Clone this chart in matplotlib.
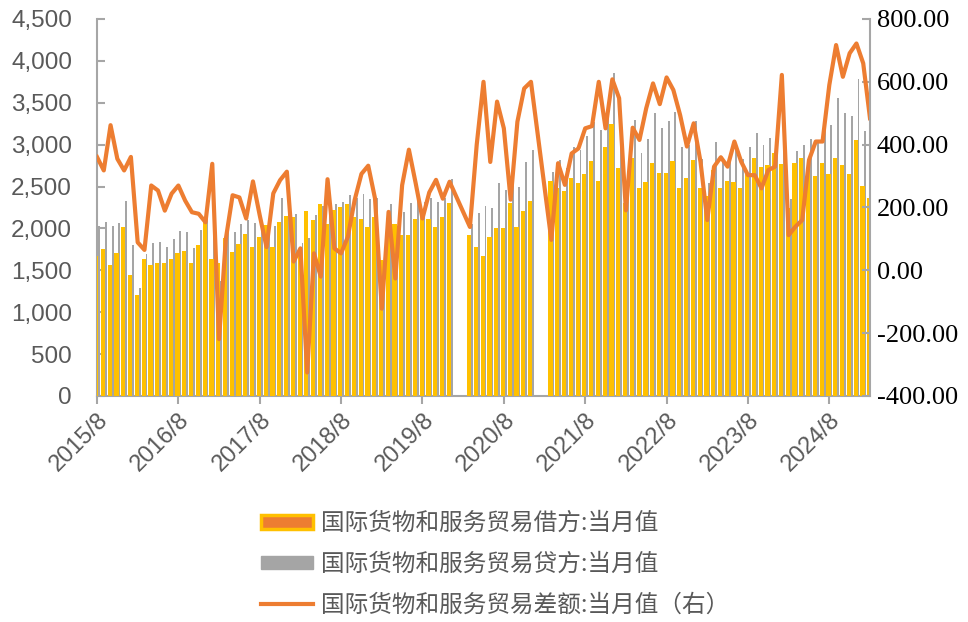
import numpy as np
import pandas as pd
import matplotlib
matplotlib.use("Agg")
import matplotlib.pyplot as plt
from matplotlib.patches import Patch
from matplotlib.lines import Line2D
from matplotlib.ticker import FuncFormatter, MultipleLocator

# monthly data, 2015/8 - 2025/2 (None = no data)
months = pd.period_range("2015-08", periods=115, freq="M")

debit = [1673, 1753, 1562, 1705, 2012, 1442, 1203, 1633, 1562, 1586,
         1586, 1633, 1705, 1733, 1586, 1801, 2104, 1633, 1586, 1883,
         1716, 1815, 1934, 1783, 1902, 2040, 1783, 2074, 2150, 2141,
         1760, 2213, 2101, 2292, 2054, 2221, 2261, 2292, 2141, 2109,
         2022, 2133, 1624, 2100, 2054, 1922, 1922, 2109, 2149, 2109,
         2022, 2141, 2308, None, None, 1922, 1783, 1672, 1902, 2002,
         2002, 2308, 2022, 2213, 2332, None, None, 2571, 2480, 2452,
         2599, 2547, 2650, 2810, 2571, 2977, 3248, 2718, 2308, 2838,
         2480, 2551, 2786, 2666, 2666, 2810, 2480, 2599, 2818, 2480,
         2388, 2700, 2480, 2571, 2551, 2480, 2666, 2838, 2738, 2758,
         2898, 2770, 2241, 2786, 2838, 2718, 2627, 2786, 2650, 2838,
         2758, 2650, 3057, 2507, 2360]

credit = [2034, 2071, 2024, 2060, 2330, 1803, 1292, 1698, 1832, 1840,
          1776, 1877, 1975, 1955, 1771, 1981, 2257, 1972, 1367, 1985,
          1956, 2049, 2100, 2065, 2073, 2115, 2028, 2362, 2464, 2169,
          1830, 1890, 2155, 2272, 2344, 2291, 2315, 2399, 2365, 2416,
          2355, 2362, 1503, 2287, 2029, 2194, 2307, 2386, 2315, 2359,
          2312, 2368, 2590, None, None, 2059, 2183, 2272, 2248, 2539,
          2454, 2532, 2495, 2792, 2932, None, None, 2668, 2821, 2724,
          2971, 2935, 3102, 3269, 3171, 3429, 3856, 3266, 2500, 3293,
          2895, 3067, 3381, 3195, 3280, 3384, 2974, 2993, 3286, 2826,
          2548, 3030, 2840, 2901, 2961, 2826, 2969, 3141, 2999, 3077,
          3228, 3392, 2353, 2925, 2998, 3069, 3037, 3196, 3240, 3555,
          3374, 3341, 3779, 3166, 2844]

balance = [361, 318, 462, 355, 318, 361, 89, 65, 270, 254,
           190, 244, 270, 222, 185, 180, 153, 339, -219, 100,
           239, 232, 165, 283, 175, 74, 245, 287, 314, 28,
           70, -325, 54, -20, 290, 70, 54, 107, 224, 307,
           333, 229, -122, 186, -26, 271, 384, 277, 165, 248,
           288, 228, 282, None, None, 138, 400, 600, 345, 537,
           452, 225, 473, 579, 600, None, None, 97, 341, 272,
           372, 388, 452, 459, 600, 452, 608, 548, 191, 454,
           415, 516, 595, 529, 614, 574, 494, 394, 468, 346,
           160, 330, 360, 330, 410, 346, 303, 303, 261, 319,
           330, 622, 112, 139, 160, 351, 410, 410, 590, 717,
           616, 691, 722, 659, 484]

label_debit = "国际货物和服务贸易借方:当月值"
label_credit = "国际货物和服务贸易贷方:当月值"
label_balance = "国际货物和服务贸易差额:当月值（右）"

YELLOW = "#FFC000"
ORANGE = "#ED7D31"
GREY = "#A5A5A5"
AXIS = "#A6A6A6"
TXT = "#595959"

x = np.arange(len(months))
deb = np.array(debit, dtype=float)
cre = np.array(credit, dtype=float)
bal = np.array(balance, dtype=float)

fig = plt.figure(figsize=(9.68, 6.22), dpi=100)
ax = fig.add_axes([97 / 968, 1 - 396 / 622, 773 / 968, 377 / 622])
ax2 = ax.twinx()

m = ~np.isnan(cre)
ax.bar(x[m] + 0.30, cre[m], width=0.28, color=GREY, zorder=2)
m = ~np.isnan(deb)
ax.bar(x[m] - 0.12, deb[m], width=0.62, color=YELLOW, zorder=3)

# line is drawn through the missing months
m = ~np.isnan(bal)
ax2.plot(x[m], bal[m], color=ORANGE, lw=3, solid_joinstyle="round")

ax.set_xlim(0, len(months) - 1)
ax.set_ylim(0, 4500)
ax2.set_ylim(-400, 800)
ax.yaxis.set_major_locator(MultipleLocator(500))
ax2.yaxis.set_major_locator(MultipleLocator(200))
ax.yaxis.set_major_formatter(FuncFormatter(lambda v, p: f"{v:,.0f}"))
ax2.yaxis.set_major_formatter(FuncFormatter(lambda v, p: f"{v:.2f}"))

tick_pos = [i for i, p in enumerate(months) if p.month == 8]
tick_lab = [f"{months[i].year}/{months[i].month}" for i in tick_pos]
ax.set_xticks(tick_pos)
ax.set_xticklabels(tick_lab, rotation=45, ha="right", va="top",
                   rotation_mode="anchor", fontsize=17, color=TXT,
                   family="Liberation Sans")

for a in (ax, ax2):
    for s in a.spines.values():
        s.set_visible(False)
ax.spines["left"].set_visible(True)
ax.spines["bottom"].set_visible(True)
ax2.spines["right"].set_visible(True)
for s in (ax.spines["left"], ax.spines["bottom"], ax2.spines["right"]):
    s.set_color(AXIS)
    s.set_linewidth(1.5)

ax.tick_params(axis="y", direction="in", length=6, width=1.5, color=AXIS,
               pad=18, labelsize=17.5, labelcolor=TXT)
ax.tick_params(axis="x", direction="out", length=6, width=1.5, color=AXIS, pad=3)
ax2.tick_params(axis="y", direction="in", length=6, width=1.5, color=AXIS,
                pad=5, labelsize=19, labelcolor="black")
for t in ax.get_yticklabels():
    t.set_family("Liberation Sans")
for t in ax2.get_yticklabels():
    t.set_family("Liberation Serif")

handles = [Patch(facecolor=ORANGE, edgecolor=YELLOW, linewidth=2.5),
           Patch(facecolor=GREY, edgecolor=GREY),
           Line2D([0], [0], color=ORANGE, lw=3)]
fig.legend(handles, [label_debit, label_credit, label_balance],
           loc="upper left", bbox_to_anchor=(240 / 968, 1 - 491 / 622),
           frameon=False, handlelength=2.2, handleheight=0.5,
           handletextpad=0.35, labelspacing=0.75,
           prop={"family": ["Noto Sans CJK SC", "DejaVu Sans"], "size": 17},
           labelcolor=TXT)

fig.savefig("out.png", dpi=100)
